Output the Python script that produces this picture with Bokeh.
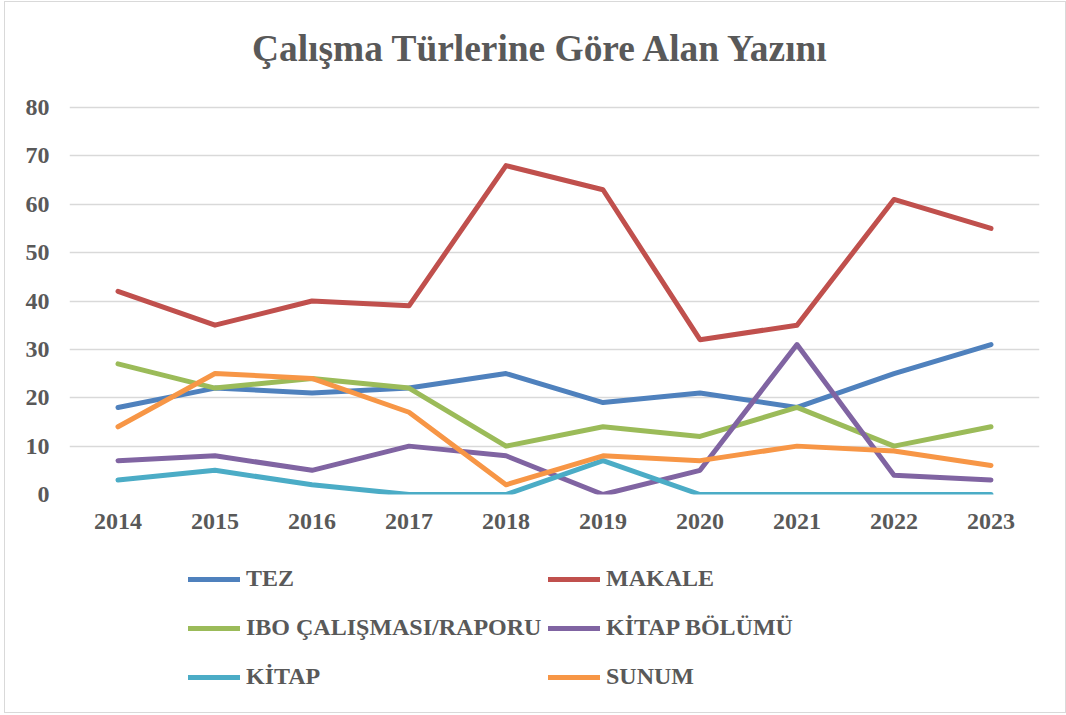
from bokeh.plotting import figure
from bokeh.models import Legend, LegendItem, Label, FixedTicker
from bokeh.layouts import column
from bokeh.embed import file_html
from bokeh.resources import INLINE

years = ["2014", "2015", "2016", "2017", "2018", "2019", "2020", "2021", "2022", "2023"]
tez = [18, 22, 21, 22, 25, 19, 21, 18, 25, 31]
makale = [42, 35, 40, 39, 68, 63, 32, 35, 61, 55]
ibo = [27, 22, 24, 22, 10, 14, 12, 18, 10, 14]
kitap_bolumu = [7, 8, 5, 10, 8, 0, 5, 31, 4, 3]
kitap = [3, 5, 2, 0, 0, 7, 0, 0, 0, 0]
sunum = [14, 25, 24, 17, 2, 8, 7, 10, 9, 6]

series_names = ["TEZ", "MAKALE", "IBO ÇALIŞMASI/RAPORU", "KİTAP BÖLÜMÜ", "KİTAP", "SUNUM"]
series_values = [tez, makale, ibo, kitap_bolumu, kitap, sunum]
colors = ["#4f81bd", "#c0504d", "#9bbb59", "#8064a2", "#4bacc6", "#f79646"]
title_text = "Çalışma Türlerine Göre Alan Yazını"
y_ticks = [0, 10, 20, 30, 40, 50, 60, 70, 80]

FONT = "Liberation Serif"
GRAY = "#595959"

# frame extends above the 80 gridline so the title can sit inside it
p = figure(x_range=years, y_range=(0, 99.64), width=1060, height=540,
           output_backend="svg", toolbar_location=None,
           min_border_left=64, min_border_right=26, min_border_top=10, min_border_bottom=48)
p.title = None
p.outline_line_color = None
p.background_fill_color = "white"
p.border_fill_color = "white"
p.x_range.range_padding = 0

p.xgrid.grid_line_color = None
p.ygrid.grid_line_color = "#d9d9d9"
p.ygrid.grid_line_width = 1.5
p.yaxis.ticker = FixedTicker(ticks=y_ticks)

for ax in (p.xaxis, p.yaxis):
    ax.axis_line_color = None
    ax.major_tick_line_color = None
    ax.minor_tick_line_color = None
    ax.major_tick_out = 0
    ax.major_tick_in = 0
    ax.major_label_text_font = FONT
    ax.major_label_text_font_style = "bold"
    ax.major_label_text_font_size = "24px"
    ax.major_label_text_color = GRAY
p.yaxis.major_label_standoff = 20
p.xaxis.major_label_standoff = 19

for vals, c in zip(series_values, colors):
    p.line(years, vals, line_color=c, line_width=5, line_cap="round", line_join="round")

p.add_layout(Label(x=4.865, y=92.2, text=title_text, text_font=FONT, text_font_style="bold",
                   text_font_size="37.4px", text_color=GRAY, text_align="center",
                   text_baseline="middle"))

# legend panel below the chart (legend-only figure; its lines lie outside its ranges)
lg = figure(width=1060, height=170, x_range=(0, 1), y_range=(0, 1),
            output_backend="svg", toolbar_location=None,
            x_axis_location=None, y_axis_location=None,
            min_border_left=0, min_border_right=0, min_border_top=0, min_border_bottom=0)
lg.outline_line_color = None
lg.grid.grid_line_color = None
lg.border_fill_color = "white"
item_map = {}
for name, c in zip(series_names, colors):
    r = lg.line(x=[-2, -1], y=[-2, -1], line_color=c, line_width=5, line_cap="round")
    item_map[name] = LegendItem(label=name, renderers=[r])

# legend fills column by column: left column = items 0,2,4 ; right column = 1,3,5
order = series_names[0::2] + series_names[1::2]
legend = Legend(items=[item_map[n] for n in order], ncols=2, location=(119, 11),
                label_text_font=FONT, label_text_font_style="bold",
                label_text_font_size="24px", label_text_color=GRAY,
                glyph_width=52, glyph_height=20, label_standoff=6,
                label_width=302, label_height=49, spacing=0, padding=0, margin=0,
                border_line_color=None, background_fill_alpha=0)
lg.add_layout(legend, "center")

layout = column(p, lg, spacing=0)
layout.styles = {"border": "1px solid #d9d9d9", "margin-left": "4px", "margin-top": "1px"}

open("out.html", "w").write(file_html(layout, INLINE))
